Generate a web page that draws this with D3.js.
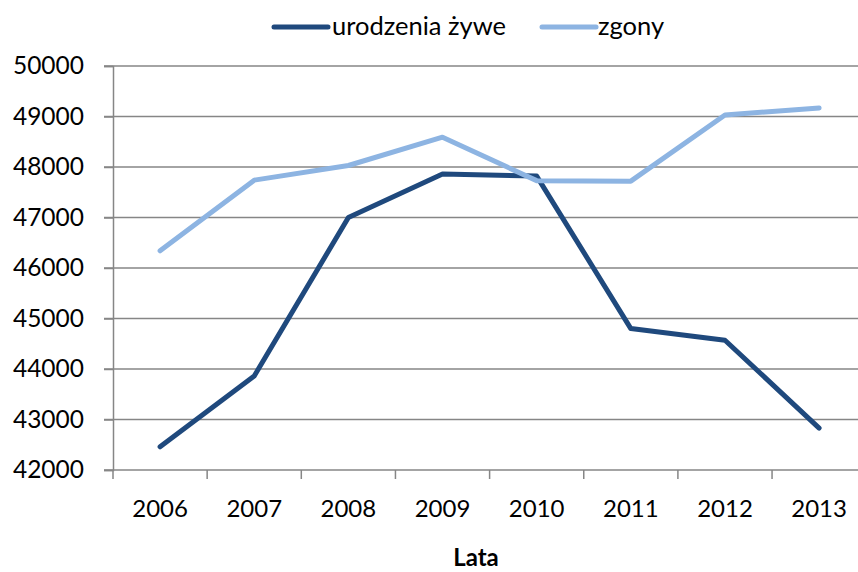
<!DOCTYPE html>
<html><head><meta charset="utf-8">
<script src="https://cdn.jsdelivr.net/npm/d3@7"></script>
<style>body{margin:0;background:#fff}svg{display:block}text{font-family:Lato,"Liberation Sans",sans-serif;fill:#000}</style>
</head><body>
<script>
const years = ["2006","2007","2008","2009","2010","2011","2012","2013"];
const births = [42460, 43860, 47000, 47860, 47820, 44800, 44570, 42830];
const deaths = [46340, 47740, 48030, 48590, 47730, 47720, 49030, 49170];
const yTicks = [42000, 43000, 44000, 45000, 46000, 47000, 48000, 49000, 50000];
const seriesNames = ["urodzenia żywe", "zgony"];
const colors = ["#1F497D", "#8DB4E2"];

(function () {
const W = 858, H = 572;
const svg = d3.select("body").append("svg").attr("width", W).attr("height", H);
const pLeft = 113, pTop = 66, pBottom = 470, pRight = 113 + 8 * 94.15;
const x = d3.scaleBand().domain(years).range([pLeft, pRight]);
const y = d3.scaleLinear().domain([42000, 50000]).range([pBottom, pTop]);

// gridlines
svg.append("g").selectAll("line").data(yTicks).join("line")
  .attr("x1", pLeft - 9).attr("x2", pRight)
  .attr("y1", d => y(d)).attr("y2", d => y(d))
  .attr("stroke", "#868686").attr("stroke-width", 1.5);

// y axis
const ya = svg.append("g").attr("transform", `translate(${pLeft},0)`)
  .call(d3.axisLeft(y).tickValues(yTicks).tickFormat(d3.format("d")).tickSize(9).tickPadding(20));
ya.select(".domain").attr("stroke", "#868686").attr("stroke-width", 1.5);
ya.selectAll(".tick line").attr("stroke", "#868686").attr("stroke-width", 1.5);
ya.selectAll("text").attr("font-size", 24.5).attr("font-family", "Lato, 'Liberation Sans', sans-serif").attr("fill", "#000");

// x axis
const xa = svg.append("g").attr("transform", `translate(0,${pBottom})`)
  .call(d3.axisBottom(x).tickSize(0).tickPadding(30));
xa.select(".domain").remove();
xa.selectAll("text").attr("font-size", 24).attr("font-family", "Lato, 'Liberation Sans', sans-serif").attr("fill", "#000");
// category boundary ticks
svg.append("g").selectAll("line").data(d3.range(years.length + 1)).join("line")
  .attr("x1", i => pLeft + i * x.step()).attr("x2", i => pLeft + i * x.step())
  .attr("y1", pBottom).attr("y2", pBottom + 9)
  .attr("stroke", "#868686").attr("stroke-width", 1.5);

// lines
const line = d3.line().x((d, i) => x(years[i]) + x.bandwidth() / 2).y(d => y(d));
[births, deaths].forEach((s, k) => {
  svg.append("path").datum(s).attr("d", line)
    .attr("fill", "none").attr("stroke", colors[k]).attr("stroke-width", 5)
    .attr("stroke-linejoin", "round").attr("stroke-linecap", "round");
});

// legend
const lg = svg.append("g");
const legendPos = [{lx: 274, tx: 332}, {lx: 542, tx: 598}];
seriesNames.forEach((n, k) => {
  lg.append("line").attr("x1", legendPos[k].lx).attr("x2", legendPos[k].lx + 54)
    .attr("y1", 27).attr("y2", 27).attr("stroke", colors[k]).attr("stroke-width", 5).attr("stroke-linecap", "round");
  lg.append("text").attr("x", legendPos[k].tx).attr("y", 35).attr("font-size", 25.5).text(n);
});

// axis title
svg.append("text").attr("x", 476).attr("y", 566).attr("text-anchor", "middle")
  .attr("font-size", 24).attr("font-weight", "bold").text("Lata");
})();
</script>
</body></html>
